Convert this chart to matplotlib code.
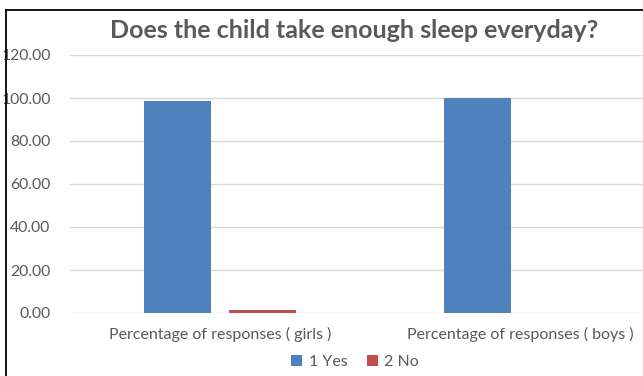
import matplotlib.pyplot as plt
from matplotlib.lines import Line2D
import numpy as np

plt.rcParams['font.family'] = ['Lato', 'DejaVu Sans']

groups = ['Percentage of responses ( girls )', 'Percentage of responses ( boys )']
yes_vals = [98.5, 100.0]
no_vals = [1.5, 0.0]
series_names = ['1 Yes', '2 No']
yticks = [0, 20, 40, 60, 80, 100, 120]

blue = '#4F81BD'
red = '#C0504D'
grey = '#595959'

fig = plt.figure(figsize=(6.43, 3.76), dpi=100)
W, H = 643, 376
ax = fig.add_axes([70 / W, 63 / H, 600 / W, 258 / H])

x = np.arange(len(groups))
bw = 0.223
ax.bar(x - 0.142, yes_vals, bw, color=blue, label=series_names[0], zorder=3)
ax.bar(x + 0.142, no_vals, bw, color=red, label=series_names[1], zorder=3)

ax.set_xlim(-0.5, 1.5)
ax.set_ylim(0, 120)
ax.set_yticks(yticks)
ax.set_yticklabels([f'{v:.2f}' for v in yticks], fontsize=11.3, color=grey)
ax.set_xticks(x)
ax.set_xticklabels(groups, fontsize=11.5, color=grey)
ax.tick_params(axis='y', length=0, pad=14)
ax.tick_params(axis='x', length=0, pad=10)
ax.grid(axis='y', color='#D9D9D9', lw=1, zorder=0)
for s in ax.spines.values():
    s.set_visible(False)

fig.text(354 / W, 1 - 30 / H, 'Does the child take enough sleep everyday?',
         ha='center', va='center', fontsize=18, fontweight='bold', color=grey)

leg = fig.legend(loc='center', bbox_to_anchor=(355 / W, 1 - 362 / H), ncol=2,
                 frameon=False, handlelength=0.7, handleheight=0.7,
                 handletextpad=0.4, columnspacing=1.2, prop={'size': 11.5})
for t in leg.get_texts():
    t.set_color(grey)

# outer frame, left and top edges
fig.add_artist(Line2D([5.5 / W, 5.5 / W], [0, 1 - 10 / H], color='black', lw=1.3))
fig.add_artist(Line2D([5.5 / W, 1], [1 - 10 / H, 1 - 10 / H], color='black', lw=1.3))

fig.savefig('out.png', dpi=100, facecolor='white')
